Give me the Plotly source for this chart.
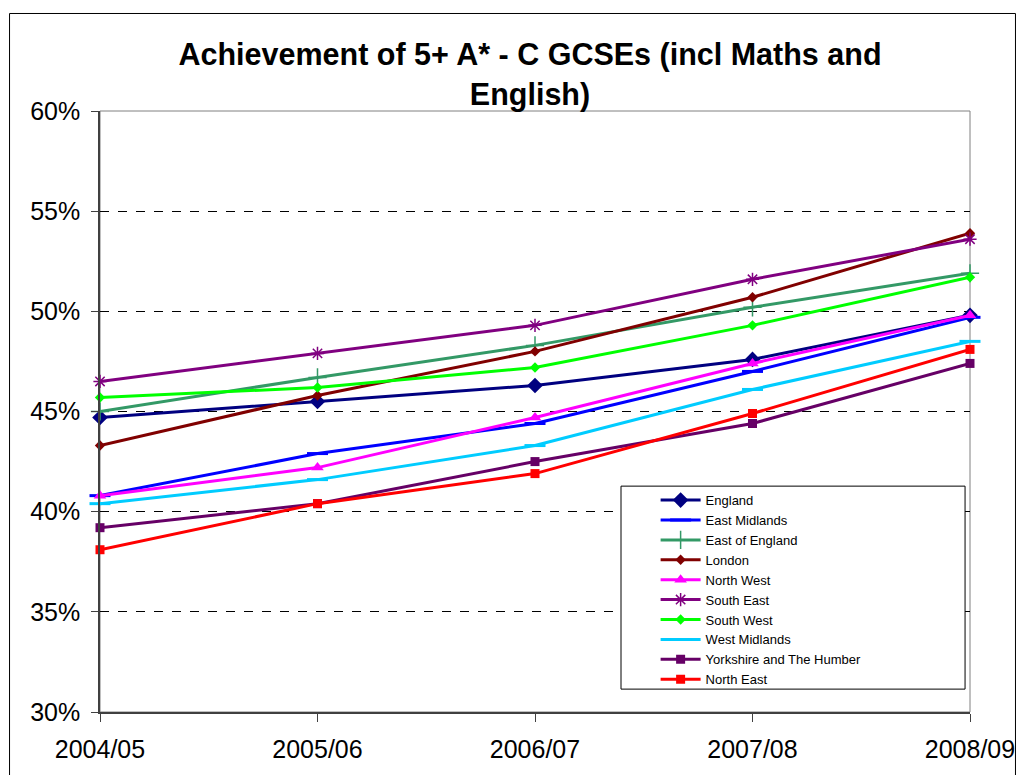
import plotly.graph_objects as go

categories = ["2004/05", "2005/06", "2006/07", "2007/08", "2008/09"]

england = [44.7, 45.5, 46.3, 47.6, 49.8]
east_midlands = [40.8, 42.9, 44.4, 47.0, 49.7]
east_of_england = [45.0, 46.7, 48.3, 50.2, 51.9]
london = [43.3, 45.8, 48.0, 50.7, 53.9]
north_west = [40.8, 42.2, 44.7, 47.4, 49.8]
south_east = [46.5, 47.9, 49.3, 51.6, 53.6]
south_west = [45.7, 46.2, 47.2, 49.3, 51.7]
west_midlands = [40.4, 41.6, 43.3, 46.1, 48.5]
yorkshire = [39.2, 40.4, 42.5, 44.4, 47.4]
north_east = [38.1, 40.4, 41.9, 44.9, 48.1]

y_ticks = [30, 35, 40, 45, 50, 55, 60]

series = [
    ("England", england, "#000080", dict(symbol="diamond", size=12)),
    ("East Midlands", east_midlands, "#0000FF", dict(symbol="line-ew-open", size=15, line=dict(width=3, color="#0000FF"))),
    ("East of England", east_of_england, "#339966", dict(symbol="cross-thin-open", size=13, line=dict(width=1.5, color="#339966"))),
    ("London", london, "#800000", dict(symbol="diamond", size=8)),
    ("North West", north_west, "#FF00FF", dict(symbol="triangle-up", size=11)),
    ("South East", south_east, "#800080", dict(symbol="asterisk-open", size=11, line=dict(width=1.5, color="#800080"))),
    ("South West", south_west, "#00FF00", dict(symbol="diamond", size=8)),
    ("West Midlands", west_midlands, "#00CCFF", dict(symbol="line-ew-open", size=15, line=dict(width=3, color="#00CCFF"))),
    ("Yorkshire and The Humber", yorkshire, "#660066", dict(symbol="square", size=9)),
    ("North East", north_east, "#FF0000", dict(symbol="square", size=9)),
]

xs = list(range(len(categories)))

fig = go.Figure()
for name, vals, color, mk in series:
    m = dict(color=color)
    m.update(mk)
    fig.add_trace(go.Scatter(
        x=xs, y=vals, name=name, mode="lines+markers",
        line=dict(color=color, width=3),
        marker=m, cliponaxis=False,
    ))

FONT = "Arial, Liberation Sans, sans-serif"

# figure is drawn with an 8px page margin; geometry below is in figure px
W, H = 1019, 767
L, R, T, B = 92, 972, 103, 707
pw, ph = R - L, B - T

def px_x(x):
    return (x - L) / pw

def px_y(y):
    return (B - y) / ph

frame = dict(color="black", width=1)
shapes = [
    # outer chart frame (left, top, right)
    dict(type="line", xref="paper", yref="paper", x0=px_x(0.5), x1=px_x(0.5),
         y0=px_y(H + 5), y1=px_y(5), line=frame, layer="below"),
    dict(type="line", xref="paper", yref="paper", x0=px_x(0.5), x1=px_x(W - 1),
         y0=px_y(5), y1=px_y(5), line=frame, layer="below"),
    dict(type="line", xref="paper", yref="paper", x0=px_x(W - 1), x1=px_x(W - 1),
         y0=px_y(H + 5), y1=px_y(5), line=frame, layer="below"),
    # plot area border (gray)
    dict(type="rect", xref="paper", yref="paper", x0=0, x1=1, y0=0, y1=1,
         line=dict(color="#808080", width=1), fillcolor="rgba(0,0,0,0)", layer="below"),
    # legend box
    dict(type="rect", xref="paper", yref="paper",
         x0=px_x(619), x1=px_x(967), y0=px_y(684), y1=px_y(480),
         line=dict(color="black", width=1), fillcolor="white", layer="above"),
]

fig.update_layout(
    width=W, height=H,
    paper_bgcolor="white", plot_bgcolor="white",
    margin=dict(l=L, r=W - R, t=T, b=H - B),
    font=dict(family=FONT, color="black"),
    title=dict(
        text="<b>Achievement of 5+ A* - C GCSEs (incl Maths and<br>English)</b>",
        x=522 / W, xanchor="center", xref="container",
        y=1 - 57 / H, yanchor="middle", yref="container",
        font=dict(size=30.5, family=FONT, color="black"),
    ),
    showlegend=True,
    legend=dict(
        x=px_x(654), y=px_y(479), xanchor="left", yanchor="top",
        bgcolor="rgba(0,0,0,0)", borderwidth=0,
        font=dict(size=13, family=FONT, color="black"),
        itemwidth=40, tracegroupgap=0,
    ),
    shapes=shapes,
)

fig.update_xaxes(
    range=[0, len(categories) - 1],
    tickmode="array", tickvals=xs, ticktext=categories,
    showgrid=False, zeroline=False,
    showline=True, linecolor="#404040", linewidth=1.5,
    ticks="outside", ticklen=8, tickcolor="#404040", tickwidth=1,
    tickfont=dict(size=25, family=FONT, color="black"),
    ticklabelstandoff=6,
)
fig.update_yaxes(
    range=[30, 60],
    tickmode="array", tickvals=y_ticks, ticktext=[f"{v}%" for v in y_ticks],
    showgrid=True, gridcolor="black", gridwidth=1, griddash="dash",
    zeroline=False,
    showline=True, linecolor="#404040", linewidth=1.5,
    ticks="outside", ticklen=7, tickcolor="#404040", tickwidth=1,
    tickfont=dict(size=25, family=FONT, color="black"),
    ticklabelstandoff=6,
)

fig.write_html("out.html")
